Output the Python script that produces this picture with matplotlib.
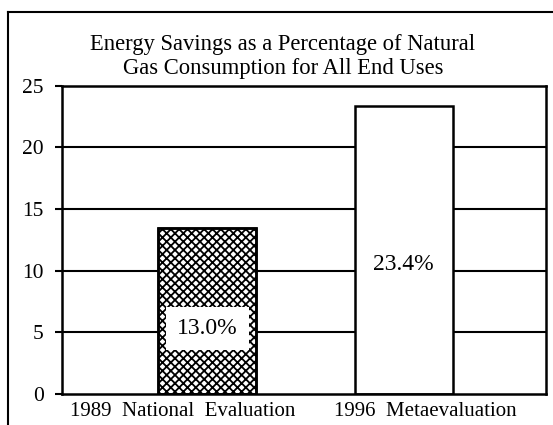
#!/usr/bin/env python3
import numpy as np
import matplotlib.pyplot as plt
from matplotlib.lines import Line2D

categories = ["1989  National  Evaluation", "1996  Metaevaluation"]
savings = [13.5, 23.4]
bar_labels = ["13.0%", "23.4%"]
label_y = [5.3, 10.5]
yticks = [0, 5, 10, 15, 20, 25]
title_lines = ["Energy Savings as a Percentage of Natural",
               "Gas Consumption for All End Uses"]

plt.rcParams['font.family'] = ['Liberation Serif', 'DejaVu Serif']
plt.rcParams['hatch.linewidth'] = 1.3

fig = plt.figure(figsize=(5.53, 4.25), dpi=100)
ax = fig.add_axes([0.112, 0.073, 0.875, 0.725])

# cadre extérieur (coupé à droite et en bas)
fig.add_artist(Line2D([8/553, 1.0], [1 - 12/425, 1 - 12/425], color='black', lw=1.5))
fig.add_artist(Line2D([8/553, 8/553], [0.0, 1 - 12/425], color='black', lw=1.5))

for k, line in enumerate(title_lines):
    fig.text(283/553, 1 - (50 + 24*k)/425, line, ha='center', va='baseline', fontsize=16.3)

ax.set_xlim(0, 2)
ax.set_ylim(0, 25)
ax.set_yticks(yticks)
ax.set_yticklabels([str(t) for t in yticks], fontsize=15.5)
ax.tick_params(axis='y', direction='out', length=5, width=1.5, pad=8)
ax.set_xticks([0.5, 1.5])
ax.set_xticklabels(categories, fontsize=15)
ax.tick_params(axis='x', length=0, pad=6)

for t in yticks[1:-1]:
    ax.axhline(t, color='black', lw=1.5, zorder=1)

for s in ax.spines.values():
    s.set_linewidth(1.8)

pos = [0.6, 1.413]
ax.bar(pos[0], savings[0], width=0.405, facecolor='white', edgecolor='black',
       hatch='xxxx', lw=1.8, zorder=2)
ax.bar(pos[1], savings[1], width=0.405, facecolor='white', edgecolor='black',
       lw=1.8, zorder=2)
# contour du premier barre par-dessus la trame
ax.bar(pos[0], savings[0], width=0.405, fill=False, edgecolor='black', lw=1.8, zorder=3)

for p, lab, yy in zip(pos, bar_labels, label_y):
    ax.text(p, yy, lab, ha='center', va='center', fontsize=17, zorder=4,
            bbox=dict(facecolor='white', edgecolor='none', pad=8))

fig.savefig("out.png", dpi=100)
